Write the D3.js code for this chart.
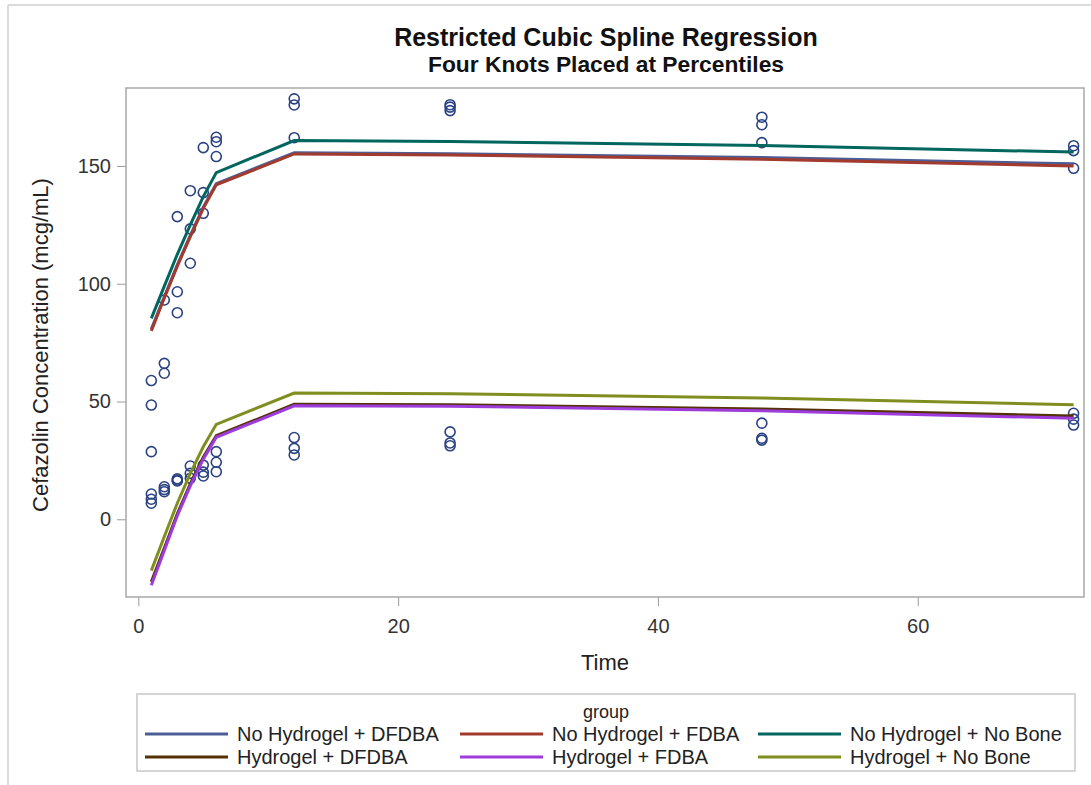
<!DOCTYPE html>
<html lang="en">
    <head>
        <meta charset="utf-8">
        <title>Restricted Cubic Spline Regression</title>
        <script src="https://d3js.org/d3.v7.min.js"></script>
        <style type="text/css">
            body {
                margin: 0;
                background: white;
            }
            text {
                font-family: "Liberation Sans", Arial, sans-serif;
            }
            .axis text {
                font-size: 20px;
                fill: #333;
            }
            .axis line {
                stroke: #9a9a9a;
            }
            .axis path {
                display: none;
            }
            .fit {
                fill: none;
                stroke-width: 3px;
            }
            .obs {
                fill: none;
                stroke: #2a4282;
                stroke-width: 1.6px;
            }
        </style>
    </head>
    <body>
        <script type="text/javascript">

            // time points (hours) where the spline fit is evaluated
            const times = [1, 2, 3, 4, 5, 6, 12, 24, 48, 72];

            const groups = ["No Hydrogel + DFDBA", "No Hydrogel + FDBA", "No Hydrogel + No Bone",
                            "Hydrogel + DFDBA", "Hydrogel + FDBA", "Hydrogel + No Bone"];
            const colors = ["#4d5e96", "#a23a2e", "#01665e", "#543005", "#9d3cdb", "#7f8e1f"];

            // fitted values per group, same order as times
            const fitNoHydDFDBA  = [80.8, 94.5, 108, 120.5, 132.5, 142.5, 155.6, 155.2, 153.6, 150.9];
            const fitNoHydFDBA   = [80.0, 94, 107.5, 120, 132, 142, 155.1, 154.7, 152.9, 150.0];
            const fitNoHydNoBone = [85.3, 99, 112.5, 125, 137, 147.2, 160.8, 160.4, 158.7, 155.9];
            const fitHydDFDBA    = [-26.5, -12.2, 2.3, 15, 26.3, 35.5, 48.8, 48.6, 46.8, 43.8];
            const fitHydFDBA     = [-28, -13.2, 1.5, 14.2, 25.5, 34.8, 48.2, 48.0, 46.1, 42.9];
            const fitHydNoBone   = [-21.8, -7.3, 6.8, 19.5, 30.8, 40.3, 53.6, 53.3, 51.5, 48.6];
            const fits = [fitNoHydDFDBA, fitNoHydFDBA, fitNoHydNoBone, fitHydDFDBA, fitHydFDBA, fitHydNoBone];

            // observed concentrations
            const obsTime = [1, 1, 1, 1, 1, 1,
                             2, 2, 2, 2, 2, 2,
                             3, 3, 3, 3, 3, 3,
                             4, 4, 4, 4, 4, 4,
                             5, 5, 5, 5, 5, 5,
                             6, 6, 6, 6, 6, 6,
                             12, 12, 12, 12, 12, 12,
                             24, 24, 24, 24, 24, 24,
                             48, 48, 48, 48, 48, 48,
                             72, 72, 72, 72, 72, 72];
            const obsConc = [58.9, 48.5, 28.7, 10.7, 8.5, 6.8,
                             93.1, 66.2, 62.0, 13.8, 12.6, 11.7,
                             128.5, 96.6, 87.7, 17.2, 16.6, 16.3,
                             139.5, 123.3, 108.7, 22.6, 19.5, 17.4,
                             157.8, 138.7, 129.9, 23.0, 20.0, 18.4,
                             162.2, 160.3, 154.0, 28.7, 24.2, 20.2,
                             178.5, 175.9, 162.0, 34.7, 30.1, 27.3,
                             176.0, 175.0, 173.5, 37.1, 32.4, 31.2,
                             170.7, 167.5, 159.9, 40.8, 34.4, 33.6,
                             158.6, 156.5, 149.0, 45.0, 42.5, 40.0];

            const xTicks = [0, 20, 40, 60];
            const yTicks = [0, 50, 100, 150];

            const w = 1091;
            const h = 785;
            const plotLeft = 126, plotRight = 1084, plotTop = 88, plotBottom = 597;

            const svg = d3.select("body")
                          .append("svg")
                          .attr("width", w)
                          .attr("height", h);

            // outer graph border
            svg.append("line").attr("x1", 8).attr("x2", 8).attr("y1", 5).attr("y2", h)
               .attr("stroke", "#cfcfcf").attr("stroke-width", 1.5);
            svg.append("line").attr("x1", 8).attr("x2", w).attr("y1", 5).attr("y2", 5)
               .attr("stroke", "#cfcfcf").attr("stroke-width", 1.5);

            const xScale = d3.scaleLinear()
                             .domain([-0.95, 72.8])
                             .range([plotLeft, plotRight]);

            const yScale = d3.scaleLinear()
                             .domain([-33.0, 183.1])
                             .range([plotBottom, plotTop]);

            // titles
            svg.append("text")
               .attr("x", 606).attr("y", 46)
               .attr("text-anchor", "middle")
               .style("font-size", "25px").style("font-weight", "bold").style("fill", "#111")
               .text("Restricted Cubic Spline Regression");
            svg.append("text")
               .attr("x", 606).attr("y", 72)
               .attr("text-anchor", "middle")
               .style("font-size", "22.8px").style("font-weight", "bold").style("fill", "#111")
               .text("Four Knots Placed at Percentiles");

            // axes
            svg.append("g")
               .attr("class", "axis")
               .attr("transform", "translate(0," + plotBottom + ")")
               .call(d3.axisBottom(xScale).tickValues(xTicks).tickSize(9).tickPadding(13));

            svg.append("g")
               .attr("class", "axis")
               .attr("transform", "translate(" + plotLeft + ",0)")
               .call(d3.axisLeft(yScale).tickValues(yTicks).tickSize(9).tickPadding(6));

            svg.append("rect")
               .attr("x", plotLeft).attr("y", plotTop)
               .attr("width", plotRight - plotLeft).attr("height", plotBottom - plotTop)
               .attr("fill", "none")
               .attr("stroke", "#a8a8a8")
               .attr("stroke-width", 1.5);

            svg.append("text")
               .attr("x", 605).attr("y", 670)
               .attr("text-anchor", "middle")
               .style("font-size", "22px").style("fill", "#222")
               .text("Time");

            svg.append("text")
               .attr("transform", "translate(48,345) rotate(-90)")
               .attr("text-anchor", "middle")
               .style("font-size", "22px").style("fill", "#222")
               .text("Cefazolin Concentration (mcg/mL)");

            // observed points
            svg.append("g")
               .selectAll("circle")
               .data(obsTime.map((t, i) => ({t: t, c: obsConc[i]})))
               .join("circle")
               .attr("class", "obs")
               .attr("cx", d => xScale(d.t))
               .attr("cy", d => yScale(d.c))
               .attr("r", 5);

            // spline fits
            const fitLine = d3.line()
                              .x((d, i) => xScale(times[i]))
                              .y(d => yScale(d));

            svg.append("g")
               .selectAll("path")
               .data(fits)
               .join("path")
               .attr("class", "fit")
               .attr("stroke", (d, i) => colors[i])
               .attr("d", fitLine);

            // legend
            const legend = svg.append("g");
            legend.append("rect")
                  .attr("x", 137).attr("y", 694)
                  .attr("width", 938).attr("height", 77)
                  .attr("fill", "none")
                  .attr("stroke", "#c8c8c8")
                  .attr("stroke-width", 1.5);
            legend.append("text")
                  .attr("x", 606).attr("y", 718)
                  .attr("text-anchor", "middle")
                  .style("font-size", "18px").style("fill", "#222")
                  .text("group");

            const colX = [145, 460, 758];
            const rowY = [734, 757];
            groups.forEach((g, i) => {
                const x0 = colX[i % 3];
                const y0 = rowY[Math.floor(i / 3)];
                legend.append("line")
                      .attr("x1", x0).attr("x2", x0 + 83)
                      .attr("y1", y0).attr("y2", y0)
                      .attr("stroke", colors[i])
                      .attr("stroke-width", 3);
                legend.append("text")
                      .attr("x", x0 + 92).attr("y", y0 + 7)
                      .style("font-size", "20px").style("fill", "#222")
                      .text(g);
            });

        </script>
    </body>
</html>
